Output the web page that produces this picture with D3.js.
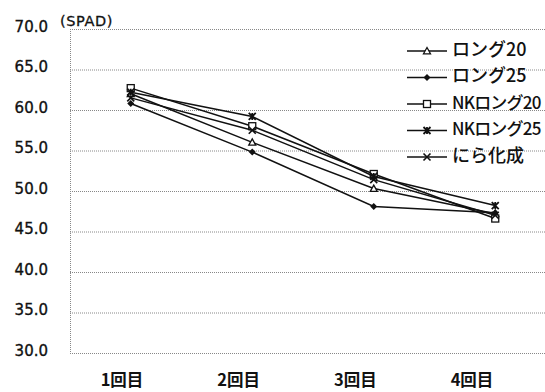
<!DOCTYPE html>
<html><head><meta charset="utf-8">
<script src="https://cdn.jsdelivr.net/npm/d3@7"></script>
<style>body{margin:0;background:#fff}svg{display:block}</style>
</head><body>
<script>
const categories = ["1回目","2回目","3回目","4回目"];
const seriesNames = ["ロング20","ロング25","NKロンク\u309920","NKロンク\u309925","にら化成"];
const ronguu20 = [62.0, 56.0, 50.3, 47.2];
const ronguu25 = [60.8, 54.8, 48.1, 47.3];
const nk20 = [62.7, 58.0, 52.1, 46.6];
const nk25 = [62.2, 59.2, 51.8, 48.2];
const nira = [61.5, 57.5, 51.4, 47.0];
const yTicks = [30,35,40,45,50,55,60,65,70];
const yUnit = "(SPAD)";
const markers = ["triangle","diamond","square","star","cross"];
const seriesValues = [ronguu20, ronguu25, nk20, nk25, nira];

const W = 545, H = 392;
const svg = d3.select("body").append("svg").attr("width", W).attr("height", H);
const cjk = "'Noto Sans CJK JP','Noto Sans',sans-serif";
const lat = "'DejaVu Sans',sans-serif";

const plotL = 70, plotR = 556, plotT = 29, plotB = 353;
const x = d3.scaleBand().domain(categories).range([plotL, plotR]);
const y = d3.scaleLinear().domain([30, 70]).range([plotB, plotT]);
const xLab = d3.scalePoint().domain(categories).range([122, 472]);

// gridlines
svg.append("g").selectAll("line").data(yTicks).join("line")
  .attr("x1", plotL).attr("x2", W)
  .attr("y1", d => y(d) + 0.5).attr("y2", d => y(d) + 0.5)
  .attr("stroke", "#888").attr("stroke-width", 1).attr("stroke-dasharray", "1,1");
svg.append("line").attr("x1", plotL + 0.5).attr("x2", plotL + 0.5)
  .attr("y1", plotT).attr("y2", plotB)
  .attr("stroke", "#888").attr("stroke-dasharray", "1,1");

// y tick labels
svg.append("g").selectAll("text").data(yTicks).join("text")
  .attr("x", 48).attr("y", d => y(d) - 2)
  .attr("text-anchor", "end").attr("dominant-baseline", "middle")
  .attr("font-family", lat).attr("font-size", 15).attr("fill", "#111")
  .attr("stroke", "#111").attr("stroke-width", 0.35)
  .text(d => d.toFixed(1));
svg.append("text").attr("x", 60).attr("y", y(70) - 7)
  .attr("dominant-baseline", "middle")
  .attr("font-family", lat).attr("font-size", 14.5).attr("letter-spacing", 0.6).attr("fill", "#111")
  .attr("stroke", "#111").attr("stroke-width", 0.3)
  .text(yUnit);

// x labels
svg.append("g").selectAll("text").data(categories).join("text")
  .attr("x", d => xLab(d)).attr("y", 382)
  .attr("text-anchor", "middle").attr("dominant-baseline", "middle")
  .attr("font-family", cjk).attr("font-size", 16.5).attr("font-weight", 700).attr("fill", "#111")
  .text(d => d);

function drawMarker(g, type, cx, cy) {
  const s = 3.5;
  if (type === "triangle") {
    g.append("path").attr("d", `M${cx},${cy - s}L${cx + s},${cy + s * 0.8}L${cx - s},${cy + s * 0.8}Z`)
      .attr("fill", "#fff").attr("stroke", "#111").attr("stroke-width", 1.3);
  } else if (type === "diamond") {
    g.append("path").attr("d", `M${cx},${cy - s}L${cx + s},${cy}L${cx},${cy + s}L${cx - s},${cy}Z`)
      .attr("fill", "#111");
  } else if (type === "square") {
    g.append("rect").attr("x", cx - s).attr("y", cy - s).attr("width", 2 * s).attr("height", 2 * s)
      .attr("fill", "#fff").attr("stroke", "#111").attr("stroke-width", 1.3);
  } else if (type === "star") {
    g.append("path").attr("d", `M${cx - s},${cy - s}L${cx + s},${cy + s}M${cx + s},${cy - s}L${cx - s},${cy + s}M${cx},${cy - s}L${cx},${cy + s}`)
      .attr("stroke", "#111").attr("stroke-width", 1.8);
  } else if (type === "cross") {
    g.append("path").attr("d", `M${cx - s},${cy - s}L${cx + s},${cy + s}M${cx + s},${cy - s}L${cx - s},${cy + s}`)
      .attr("stroke", "#111").attr("stroke-width", 1.6);
  }
}

const line = d3.line().x((d, i) => x(categories[i]) + x.bandwidth() / 2).y(d => y(d));
seriesValues.forEach((vals, k) => {
  const g = svg.append("g");
  g.append("path").attr("d", line(vals)).attr("fill", "none").attr("stroke", "#111").attr("stroke-width", 1.5);
  vals.forEach((v, i) => drawMarker(g, markers[k], x(categories[i]) + x.bandwidth() / 2, y(v)));
});

// legend
const leg = svg.append("g");
seriesNames.forEach((name, k) => {
  const ly = 51 + k * 26.5;
  leg.append("line").attr("x1", 407).attr("x2", 447).attr("y1", ly).attr("y2", ly)
    .attr("stroke", "#111").attr("stroke-width", 1.5);
  drawMarker(leg, markers[k], 427, ly);
  const nk = name.startsWith("NK");
  leg.append("text").attr("x", 452).attr("y", ly).attr("dominant-baseline", "middle")
    .attr("font-family", cjk).attr("font-weight", 500).attr("fill", "#111")
    .attr("font-size", nk ? 17 : 18).attr("letter-spacing", nk ? -0.8 : 0)
    .text(name);
});
</script>
</body></html>
